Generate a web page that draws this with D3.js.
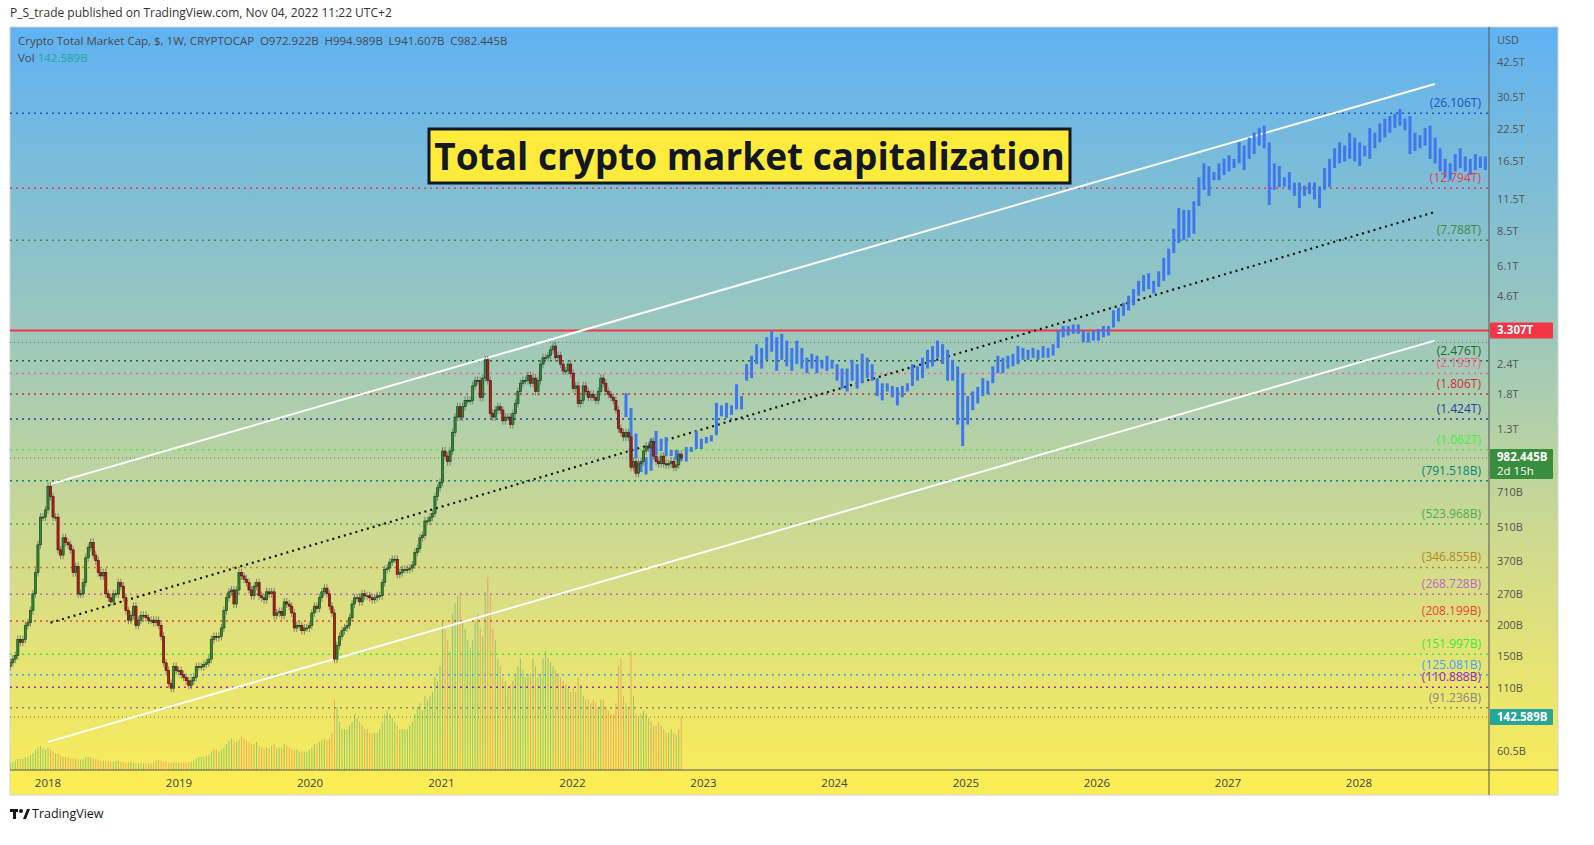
<!DOCTYPE html>
<html>
<head>
<meta charset="utf-8">
<script src="https://cdn.jsdelivr.net/npm/d3@7"></script>
<style>
  body { margin: 0; background: #fff; font-family: "Open Sans", "DejaVu Sans", sans-serif; }
  svg { display: block; }
</style>
</head>
<body>
<svg id="chart" width="1594" height="845"></svg>
<script>
// weekly closes (billions USD) from 2017-09-18
const histStart = "2017-09-18"
const closes = [
  140,145,150,175,170,175,200,205,230,270,330,430,560,560,600,
  750,680,560,560,410,390,460,440,430,410,330,350,270,270,300,380,420,440,390,370,330,320,330,270,260,250,270,270,300,290,260,230,210,220,240,200,210,220,220,215,210,210,205,210,200,180,140,130,115,110,135,130,130,
  125,122,118,113,118,122,135,135,135,138,140,145,175,180,178,180,195,230,260,275,280,245,280,330,320,310,300,280,265,290,300,265,260,255,275,270,275,220,225,228,220,250,245,240,225,195,200,200,190,195,195,200,
  225,240,235,260,275,285,270,240,225,145,165,180,190,195,200,215,245,260,260,250,270,265,265,260,255,260,265,265,300,340,345,365,375,375,325,330,340,340,340,345,355,400,415,460,470,540,540,560,580,680,740,780,
  1050,1000,950,1050,1250,1450,1600,1450,1600,1700,1700,1700,1950,2050,2050,1750,2100,2500,2050,1500,1450,1550,1600,1550,1400,1450,1450,1350,1500,1650,1850,2000,2050,2050,2150,2000,2100,1850,2050,2400,2550,2550,2600,2750,2850,2550,2600,2400,2250,2250,2400,2200,
  1900,1950,1650,1700,1950,1850,1750,1800,1750,1700,1850,2100,2000,1850,1800,1750,1700,1550,1300,1250,1200,1250,1200,900,950,850,930,950,1050,1100,1080,1150,1000,950,930,1000,930,920,930,950,900,920,1020,982.445
]
const firstOpen = 135
// weekly volume (billions USD)
const volumes = [
  20,20,25,30,30,30,35,35,40,45,55,60,65,60,55,
  60,55,50,45,45,40,35,35,35,30,30,30,28,28,30,35,35,35,30,30,28,25,25,25,25,22,22,25,25,22,22,20,20,22,20,18,18,18,18,18,18,18,20,25,28,25,22,25,20,20,20,20,20,
  20,20,20,20,22,25,30,35,35,35,38,40,50,55,55,50,55,60,70,80,85,80,75,80,90,85,80,75,70,70,75,65,60,60,60,60,65,70,60,60,60,70,65,60,55,55,55,50,50,50,50,55,
  60,70,70,75,80,85,80,85,100,190,170,130,110,110,110,120,130,150,140,130,120,110,110,100,100,100,100,110,130,150,160,150,140,130,120,110,110,110,110,120,130,150,170,180,160,200,190,200,210,250,240,280,
  400,380,350,320,420,450,470,480,400,380,350,330,350,400,420,380,360,480,520,470,380,350,300,280,250,240,220,230,240,260,280,300,270,250,260,260,300,280,250,260,300,320,300,290,280,270,260,250,240,230,220,210,
  220,210,250,230,200,190,190,180,190,180,170,190,190,170,160,150,150,180,280,300,200,180,170,320,200,150,140,150,160,150,140,130,120,120,130,120,110,100,100,110,100,95,110,142.589
]

// projected biweekly bars from 2022-05-30, [low, high] in trillions
const projStart = "2022-05-30"
const projBars = [
  [1.45,1.82],[0.96,1.58],[0.98,1.24],[0.86,0.95],[0.84,0.99],[0.87,1.18],[1.01,1.27],[1.05,1.18],[1.0,1.2],[1.0,1.06],
  [0.96,1.06],[0.96,1.01],[0.95,1.09],[1.04,1.09],[1.07,1.27],[1.07,1.18],[1.13,1.2],[1.15,1.22],[1.22,1.66],[1.46,1.62],
  [1.44,1.66],[1.48,1.62],[1.56,1.98],[1.56,1.77],[2.05,2.4],[2.1,2.6],[2.4,2.9],[2.3,2.8],[2.5,3.1],[2.7,3.3],
  [2.25,3.1],[2.5,3.2],[2.35,3.0],[2.25,2.8],[2.4,3.0],[2.3,2.8],[2.2,2.55],[2.3,2.65],[2.2,2.6],[2.3,2.5],
  [2.25,2.6],[2.3,2.5],[2.05,2.4],[1.9,2.3],[1.85,2.3],[2.05,2.5],[1.9,2.4],[2.0,2.65],[2.1,2.55],[2.05,2.4],
  [1.77,2.1],[1.7,2.0],[1.85,2.0],[1.75,1.95],[1.62,1.93],[1.75,1.95],[1.85,2.0],[1.95,2.4],[2.05,2.35],[2.1,2.55],
  [2.3,2.75],[2.35,2.85],[2.55,3.0],[2.4,2.9],[2.05,2.75],[2.05,2.5],[1.35,2.35],[1.1,2.2],[1.35,1.77],[1.55,1.85],
  [1.65,1.93],[1.77,2.1],[1.8,2.05],[2.0,2.35],[2.2,2.6],[2.2,2.55],[2.3,2.6],[2.35,2.65],[2.4,2.85],[2.5,2.8],
  [2.5,2.75],[2.55,2.8],[2.5,2.75],[2.55,2.85],[2.55,2.8],[2.6,2.9],[2.8,3.3],[3.1,3.45],[3.15,3.45],[3.2,3.5],
  [3.2,3.5],[2.95,3.3],[2.95,3.25],[3.0,3.3],[3.0,3.35],[3.1,3.45],[3.15,3.45],[3.4,4.0],[3.6,4.1],[3.8,4.3],
  [4.0,4.6],[4.2,4.9],[4.6,5.3],[4.8,5.6],[4.9,5.7],[4.7,5.3],[5.0,5.8],[5.3,6.6],[5.6,7.2],[6.9,8.7],
  [7.6,10.6],[7.8,10.4],[8.0,10.4],[8.3,11.3],[10.8,14.2],[12.6,16.2],[11.9,15.8],[13.8,14.9],[13.8,16.2],[14.5,16.9],
  [15.0,17.5],[15.5,16.9],[16.2,19.8],[15.2,19.2],[16.9,20.7],[17.7,21.7],[19.2,22.7],[18.7,23.2],[10.9,19.8],[12.6,16.2],
  [12.9,15.8],[13.0,14.2],[12.6,14.9],[11.9,13.5],[10.6,13.5],[11.9,13.1],[12.1,13.5],[11.5,13.5],[10.6,13.0],[12.6,15.5],
  [12.9,16.9],[15.5,18.7],[16.2,19.8],[16.5,19.2],[16.9,21.7],[16.5,20.7],[15.8,19.8],[17.3,19.2],[16.9,22.7],[18.7,21.7],
  [19.8,23.7],[20.7,24.8],[21.7,25.4],[22.7,26.0],[23.2,27.2],[22.2,24.8],[17.7,25.4],[18.2,21.7],[18.7,21.2],[19.2,22.7],
  [16.9,23.2],[16.2,20.7],[15.0,18.7],[14.2,16.9],[13.8,16.2],[15.0,17.7],[15.5,18.7],[15.0,17.3],[14.5,16.9],[15.2,17.7],
  [15.5,17.3],[15.2,17.3]
]

// horizontal levels (billions)
const levels = [
  { v: 26106, label: "(26.106T)", color: "#2150c0" },
  { v: 12794, label: "(12.794T)", color: "#f23645" },
  { v: 7788, label: "(7.788T)", color: "#3d8f3d" },
  { v: 2476, label: "(2.476T)", color: "#1e6b2a" },
  { v: 2195, label: "(2.195T)", color: "#f06292" },
  { v: 1806, label: "(1.806T)", color: "#d32f2f" },
  { v: 1424, label: "(1.424T)", color: "#1e40a8" },
  { v: 1062, label: "(1.062T)", color: "#44ee44" },
  { v: 791.518, label: "(791.518B)", color: "#00897b" },
  { v: 523.968, label: "(523.968B)", color: "#4caf50" },
  { v: 346.855, label: "(346.855B)", color: "#b8861b" },
  { v: 268.728, label: "(268.728B)", color: "#ba68c8" },
  { v: 208.199, label: "(208.199B)", color: "#f44336" },
  { v: 151.997, label: "(151.997B)", color: "#33ee33" },
  { v: 125.081, label: "(125.081B)", color: "#42a5f5" },
  { v: 110.888, label: "(110.888B)", color: "#9c27b0" },
  { v: 91.236, label: "(91.236B)", color: "#888888" },
]
const axisTicks = [42500, 30500, 22500, 16500, 11500, 8500, 6100, 4600, 2400, 1800, 1300, 710, 510, 370, 270, 200, 150, 110, 60.5]
const axisLabels = ["42.5T","30.5T","22.5T","16.5T","11.5T","8.5T","6.1T","4.6T","2.4T","1.8T","1.3T","710B","510B","370B","270B","200B","150B","110B","60.5B"]
const years = d3.range(2018, 2029)

// channel lines: [date, value in billions]
const upperLine = [["2018-01-08", 766], ["2028-07-30", 34500]]
const lowerLine = [["2018-01-01", 66], ["2028-07-30", 3000]]
const midLine = [["2018-01-08", 205], ["2028-07-30", 10200]]

const svg = d3.select("#chart")
const L = 10, R = 1489, T = 27, B = 770, AX = 1558

const parse = d3.utcParse("%Y-%m-%d")
const x = d3.scaleUtc().domain([parse("2018-01-01"), parse("2028-01-01")]).range([48, 1359])
const y = d3.scaleLog().domain([60.5, 42500]).range([751, 62])
const yVol = d3.scaleLinear().domain([0, 520]).range([B, B - 193])

// background gradient
const defs = svg.append("defs")
const grad = defs.append("linearGradient").attr("id", "bg").attr("x1", 0).attr("y1", 0).attr("x2", 0).attr("y2", 1)
grad.append("stop").attr("offset", "0%").attr("stop-color", "#5fb2f2")
grad.append("stop").attr("offset", "40%").attr("stop-color", "#9cc8bc")
grad.append("stop").attr("offset", "70%").attr("stop-color", "#d4dc8a")
grad.append("stop").attr("offset", "100%").attr("stop-color", "#fbed56")
defs.append("clipPath").attr("id", "plot").append("rect").attr("x", L).attr("y", T).attr("width", R - L).attr("height", B - T)

svg.append("rect").attr("x", L).attr("y", T).attr("width", AX - L).attr("height", 795 - T).attr("fill", "url(#bg)")
svg.append("rect").attr("x", L).attr("y", B).attr("width", AX - L).attr("height", 25).attr("fill", "#fbed56")
svg.append("rect").attr("x", L).attr("y", T).attr("width", AX - L).attr("height", 795 - T)
  .attr("fill", "none").attr("stroke", "#d0d3da")

const plot = svg.append("g").attr("clip-path", "url(#plot)")

// volume
const weekMs = 7 * 24 * 3600 * 1000
const t0 = parse(histStart).getTime()
const candles = closes.map((c, i) => ({
  date: new Date(t0 + i * weekMs),
  open: i === 0 ? firstOpen : closes[i - 1],
  close: c,
  vol: volumes[i] || 0,
}))
plot.selectAll(".vol").data(candles).join("rect")
  .attr("x", (d) => x(d.date) - 0.5).attr("width", 1)
  .attr("y", (d) => yVol(d.vol)).attr("height", (d) => B - yVol(d.vol))
  .attr("fill", (d) => d.close >= d.open ? "rgba(60,170,110,0.5)" : "rgba(240,110,80,0.5)")

// levels
levels.forEach((lv) => {
  plot.append("line").attr("x1", L).attr("x2", R).attr("y1", y(lv.v)).attr("y2", y(lv.v))
    .attr("stroke", lv.color).attr("stroke-width", 1.5).attr("stroke-dasharray", "2,4")
  svg.append("text").attr("x", 1481).attr("y", y(lv.v) - 6).attr("text-anchor", "end")
    .attr("font-size", 12).attr("fill", lv.color).text(lv.label)
})
// thin grey dotted lines
;[2950, 982.445].forEach((v) => {
  plot.append("line").attr("x1", L).attr("x2", R).attr("y1", y(v)).attr("y2", y(v))
    .attr("stroke", "#555").attr("stroke-width", 0.8).attr("stroke-dasharray", "1,3")
})
plot.append("line").attr("x1", L).attr("x2", R).attr("y1", yVol(142.589)).attr("y2", yVol(142.589))
  .attr("stroke", "#555").attr("stroke-width", 0.8).attr("stroke-dasharray", "1,3")
// resistance 3.307T
plot.append("line").attr("x1", L).attr("x2", R).attr("y1", y(3307)).attr("y2", y(3307))
  .attr("stroke", "#f23645").attr("stroke-width", 2)

// channel
const lineGen = d3.line().x((d) => x(parse(d[0]))).y((d) => y(d[1]))
plot.append("path").attr("d", lineGen(upperLine)).attr("stroke", "#fff").attr("stroke-width", 2).attr("fill", "none")
plot.append("path").attr("d", lineGen(lowerLine)).attr("stroke", "#fff").attr("stroke-width", 2).attr("fill", "none")
plot.append("path").attr("d", lineGen(midLine)).attr("stroke", "#111").attr("stroke-width", 2.2)
  .attr("stroke-dasharray", "2,4").attr("fill", "none")

// projection bars
const p0 = parse(projStart).getTime()
plot.selectAll(".proj").data(projBars).join("rect")
  .attr("x", (d, i) => x(new Date(p0 + i * 2 * weekMs)) - 1.5).attr("width", 3)
  .attr("y", (d) => y(d[1] * 1000)).attr("height", (d) => y(d[0] * 1000) - y(d[1] * 1000))
  .attr("fill", "#3f78ec")

// candles
const cg = plot.selectAll(".candle").data(candles).join("g")
cg.append("line")
  .attr("x1", (d) => x(d.date)).attr("x2", (d) => x(d.date))
  .attr("y1", (d) => y(Math.max(d.open, d.close)) - 4).attr("y2", (d) => y(Math.min(d.open, d.close)) + 4)
  .attr("stroke", "#6b6b6b").attr("stroke-width", 0.8)
cg.append("rect")
  .attr("x", (d) => x(d.date) - 1.1).attr("width", 2.2)
  .attr("y", (d) => y(Math.max(d.open, d.close)))
  .attr("height", (d) => Math.max(1, Math.abs(y(d.open) - y(d.close))))
  .attr("fill", (d) => d.close >= d.open ? "#2f8a3a" : "#b71c1c")
  .attr("stroke", (d) => d.close >= d.open ? "#143d18" : "#4a0c0c").attr("stroke-width", 0.6)

// right axis
svg.append("line").attr("x1", R).attr("x2", R).attr("y1", T).attr("y2", 795).attr("stroke", "#555")
svg.append("line").attr("x1", L).attr("x2", AX).attr("y1", B).attr("y2", B).attr("stroke", "#555")
svg.append("text").attr("x", 1497).attr("y", 44).attr("font-size", 11).attr("fill", "#555").text("USD")
axisTicks.forEach((v, i) => {
  svg.append("text").attr("x", 1497).attr("y", y(v) + 4).attr("font-size", 11).attr("fill", "#555").text(axisLabels[i])
})
// price tags
const tag = (yy, h, color, lines) => {
  svg.append("rect").attr("x", R + 1).attr("y", yy).attr("width", 63).attr("height", h).attr("fill", color).attr("rx", 1)
  lines.forEach((t, i) => {
    svg.append("text").attr("x", 1497).attr("y", yy + 12 + i * 14).attr("font-size", 11.5)
      .attr("font-weight", i === 0 ? "bold" : "normal").attr("fill", "#fff").text(t)
  })
}
tag(y(3307) - 8, 16, "#f23645", ["3.307T"])
tag(y(982.445) - 9, 30, "#388e3c", ["982.445B", "2d 15h"])
tag(yVol(142.589) - 8, 16, "#26a69a", ["142.589B"])

// x axis
years.forEach((yr) => {
  svg.append("text").attr("x", x(parse(yr + "-01-01"))).attr("y", 787).attr("text-anchor", "middle")
    .attr("font-size", 11.5).attr("fill", "#444").text(yr)
})

// title box
svg.append("rect").attr("x", 429).attr("y", 129).attr("width", 641).attr("height", 54)
  .attr("fill", "#ffeb3b").attr("stroke", "#131722").attr("stroke-width", 3)
svg.append("text").attr("x", 749.5).attr("y", 170).attr("text-anchor", "middle")
  .attr("font-family", "'Open Sans', sans-serif").attr("font-weight", "bold").attr("font-size", 37)
  .attr("fill", "#131722").text("Total crypto market capitalization")

// header & legend
svg.append("text").attr("x", 10).attr("y", 17).attr("font-size", 12).attr("fill", "#333")
  .text("P_S_trade published on TradingView.com, Nov 04, 2022 11:22 UTC+2")
svg.append("text").attr("x", 18).attr("y", 45).attr("font-size", 11.5).attr("fill", "#4a4a4a")
  .text("Crypto Total Market Cap, $, 1W, CRYPTOCAP\u2002O972.922B\u2002H994.989B\u2002L941.607B\u2002C982.445B")
const vt = svg.append("text").attr("x", 18).attr("y", 62).attr("font-size", 11.5).attr("fill", "#4a4a4a")
vt.append("tspan").text("Vol ")
vt.append("tspan").attr("fill", "#26a69a").text(" 142.589B")

// footer
const fg = svg.append("g").attr("transform", "translate(10,807)")
fg.append("rect").attr("x", 0).attr("y", 2).attr("width", 8).attr("height", 3).attr("fill", "#131722")
fg.append("rect").attr("x", 3).attr("y", 2).attr("width", 3).attr("height", 10).attr("fill", "#131722")
fg.append("circle").attr("cx", 11).attr("cy", 4).attr("r", 2).attr("fill", "#131722")
fg.append("path").attr("d", "M13,12 L17,2 L20,2 L16,12 Z").attr("fill", "#131722")
svg.append("text").attr("x", 32).attr("y", 818).attr("font-size", 12.5).attr("fill", "#131722").text("TradingView")
</script>
</body>
</html>
